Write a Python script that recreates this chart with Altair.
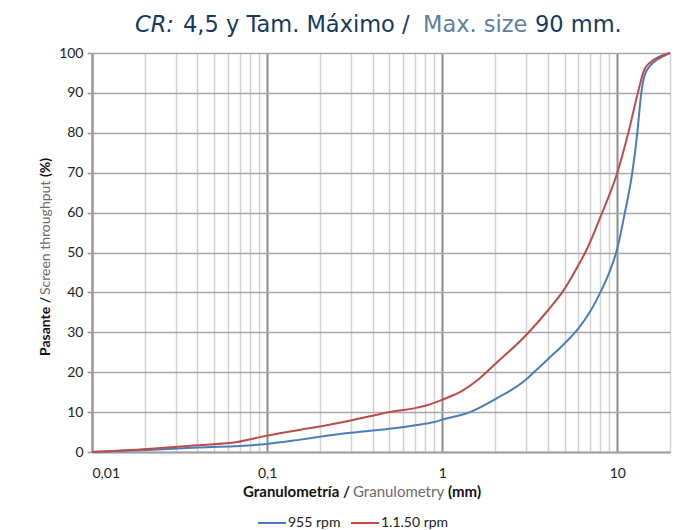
import altair as alt
import pandas as pd

# ---- data ----
blue_x = [0.01, 0.0206, 0.04, 0.1, 0.155, 0.2, 0.3, 0.5, 0.7, 0.9, 1.0, 1.44, 2.0, 3.0, 3.34, 4.0, 5.0, 6.0, 7.0, 8.0, 9.0, 10.0, 11.05, 12.18, 13.01, 13.71, 14.32, 15.49, 17.29, 20.0]
blue_y = [0.0, 0.5, 1.1, 2.0, 3.1, 3.8, 4.8, 5.8, 6.7, 7.5, 8.1, 10.0, 13.2, 18.1, 20.0, 23.2, 27.2, 31.0, 35.2, 40.0, 45.0, 51.0, 60.0, 70.0, 80.0, 90.0, 94.4, 96.9, 98.6, 100.0]
red_x = [0.01, 0.0206, 0.04, 0.0675, 0.1, 0.155, 0.2, 0.3, 0.4, 0.5, 0.7, 0.8, 0.9, 1.0, 1.3, 1.58, 2.0, 3.0, 4.0, 4.93, 5.8, 6.7, 8.2, 10.0, 11.56, 13.1, 14.19, 15.49, 17.29, 20.0]
red_y = [0.0, 0.75, 1.7, 2.5, 4.1, 5.6, 6.4, 7.9, 9.1, 10.0, 11.0, 11.6, 12.3, 13.1, 15.3, 17.9, 22.0, 29.2, 35.4, 40.5, 45.7, 50.8, 60.0, 70.0, 80.0, 90.0, 95.6, 97.7, 99.0, 100.0]
series = ["955 rpm", "1.1.50 rpm"]
colors = ["#4a7ebb", "#be4b48"]
x_grid = [k * d for d in [0.01, 0.1, 1, 10] for k in range(1, 10)] + [20]
y_ticks = list(range(0, 101, 10))

df = pd.DataFrame({
    "size": blue_x + red_x,
    "pct": blue_y + red_y,
    "serie": [series[0]] * len(blue_x) + [series[1]] * len(red_x),
})

W, H = 578, 399
PL, PT = 92, 53

major = "indexof([0.1, 1, 10], datum.value) >= 0"
xaxis = alt.Axis(
    values=x_grid, title=None, ticks=False, labelPadding=14,
    labelExpr="datum.value == 0.01 ? '0,01' : datum.value == 0.1 ? '0,1' : datum.value == 1 ? '1' : datum.value == 10 ? '10' : ''",
    gridColor={"condition": {"test": major, "value": "#8c8c8c"}, "value": "#d2d2d2"},
    gridWidth={"condition": {"test": major, "value": 2}, "value": 1.5},
    domainColor="#a0a0a0", domainWidth=2,
    labelFont="Lato", labelFontSize=14, labelColor="#222222",
)
yaxis = alt.Axis(
    values=y_ticks, title=None, tickSize=5, tickColor="#9a9a9a", tickWidth=1.5,
    gridColor="#a8a8a8", gridWidth=1.5, domainColor="#9a9a9a", domainWidth=2.5,
    labelFont="Lato", labelFontSize=14, labelColor="#222222", labelPadding=4,
)

lines = alt.Chart(df).mark_line(strokeWidth=2, interpolate="monotone").encode(
    x=alt.X("size:Q", scale=alt.Scale(type="log", domain=[0.01, 20], nice=False), axis=xaxis),
    y=alt.Y("pct:Q", scale=alt.Scale(domain=[0, 100], nice=False), axis=yaxis),
    color=alt.Color("serie:N", scale=alt.Scale(domain=series, range=colors),
                    legend=alt.Legend(title=None, orient="none", direction="horizontal",
                                      legendX=165, legendY=455, symbolType="stroke",
                                      symbolStrokeWidth=2, symbolSize=784,
                                      labelFont="Lato", labelFontSize=14, labelColor="#222222",
                                      columnPadding=6, labelOffset=1)),
)

NAVY = "#153a62"
LIGHT = "#5d7fa3"


def txt(text, x, y, color, size, weight="normal", style="normal", font="DejaVu Sans", angle=0):
    kw = dict(text=text, align="left", baseline="alphabetic", color=color, fontSize=size,
              fontWeight=weight, fontStyle=style, font=font)
    if angle:
        kw["angle"] = angle
    return alt.Chart(pd.DataFrame({"a": [0]})).mark_text(**kw).encode(
        x=alt.value(x), y=alt.value(y))

T_Y = 32 - PT
TS = 22.5
title_layers = [
    txt("CR:", 135 - PL, T_Y, NAVY, TS, "normal", "italic"),
    txt("4,5 y Tam. Máximo /", 183 - PL, T_Y, NAVY, TS),
    txt("Max. size", 423 - PL, T_Y, LIGHT, TS),
    txt("90 mm.", 535 - PL, T_Y, NAVY, TS),
]
X_Y = 497 - PT
xt_layers = [
    txt("Granulometría /", 243 - PL, X_Y, "#111111", 15, "bold", font="Lato"),
    txt("Granulometry", 353 - PL, X_Y, "#6b6b6b", 15, "normal", font="Lato"),
    txt("(mm)", 448 - PL, X_Y, "#111111", 15, "bold", font="Lato"),
]
Y_X = 50 - PL
yt_layers = [
    txt("Pasante /", Y_X, 356 - PT, "#111111", 14, "bold", font="Lato", angle=270),
    txt("Screen throughput", Y_X, 295 - PT, "#6b6b6b", 14, "normal", font="Lato", angle=270),
    txt("(%)", Y_X, 177 - PT, "#111111", 14, "bold", font="Lato", angle=270),
]

chart = alt.layer(lines, *title_layers, *xt_layers, *yt_layers).properties(
    width=W, height=H,
    autosize=alt.AutoSizeParams(type="none"),
    padding={"left": PL, "top": PT, "right": 697 - PL - W, "bottom": 530 - PT - H},
).configure_view(stroke=None).configure(background="white")

chart.save("out.html", embed_options={"renderer": "svg", "actions": False})
